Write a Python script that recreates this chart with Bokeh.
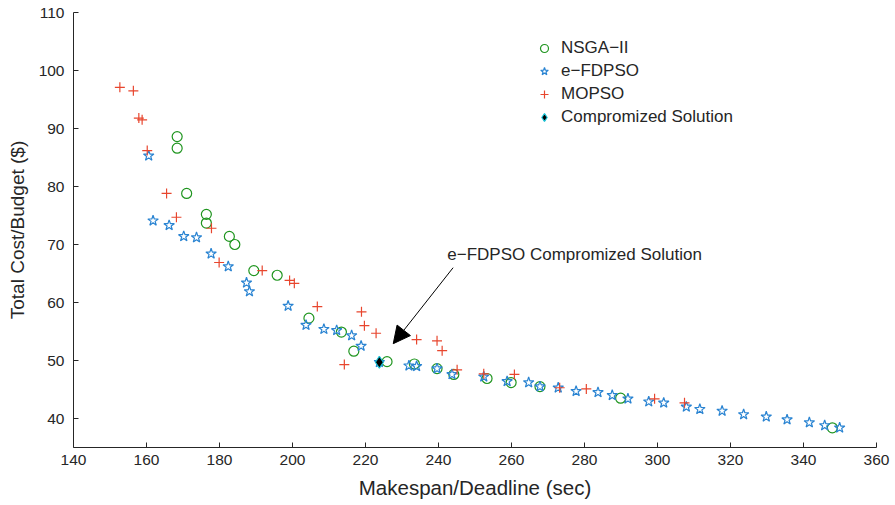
from bokeh.plotting import figure
from bokeh.models import Legend, LegendItem, Arrow, NormalHead, Label, FixedTicker, Range1d
from bokeh.embed import file_html
from bokeh.resources import INLINE

# ---- data ----
nsga_x = [168.4, 168.4, 171.0, 176.4, 176.4, 182.7, 184.2, 189.4, 195.8, 204.5, 213.4,
          216.8, 225.9, 233.4, 239.6, 244.2, 253.3, 259.9, 267.8, 289.9, 347.9]
nsga_y = [88.6, 86.6, 78.8, 75.2, 73.7, 71.4, 70.0, 65.5, 64.7, 57.3, 54.9,
          51.6, 49.8, 49.4, 48.6, 47.6, 46.9, 46.2, 45.5, 43.5, 38.4]

fdpso_x = [160.6, 161.8, 166.2, 170.2, 173.7, 177.7, 182.4, 187.4, 188.2, 198.8, 203.7,
           208.6, 212.1, 216.2, 218.8, 223.8, 231.9, 234.0, 239.6, 243.7, 252.4, 258.8,
           264.7, 267.8, 272.8, 277.7, 283.7, 287.6, 291.9, 297.6, 301.7, 307.9, 311.6,
           317.7, 323.6, 329.8, 335.5, 341.6, 345.8, 349.9]
fdpso_y = [85.3, 74.1, 73.3, 71.4, 71.2, 68.4, 66.2, 63.4, 61.9, 59.4, 56.1,
           55.4, 55.2, 54.3, 52.5, 49.7, 49.1, 49.0, 48.6, 47.6, 47.2, 46.4,
           46.2, 45.5, 45.3, 44.7, 44.5, 44.0, 43.4, 42.9, 42.7, 42.0, 41.6,
           41.3, 40.7, 40.3, 39.8, 39.3, 38.8, 38.4]

mopso_x = [152.7, 156.4, 157.9, 158.8, 160.2, 165.5, 168.2, 177.8, 179.9, 191.7, 199.2,
           200.5, 206.8, 214.2, 218.9, 219.7, 222.9, 234.0, 239.6, 241.0, 245.1, 252.4,
           260.8, 273.2, 280.5, 299.2, 307.4]
mopso_y = [97.1, 96.5, 91.8, 91.5, 86.2, 78.8, 74.7, 72.8, 66.9, 65.5, 63.8,
           63.3, 59.3, 49.3, 58.4, 56.0, 54.7, 53.6, 53.4, 51.7, 48.4, 47.7,
           47.6, 45.3, 45.1, 43.4, 42.7]

comp_x = [223.8]
comp_y = [49.7]

x_ticks = [140, 160, 180, 200, 220, 240, 260, 280, 300, 320, 340, 360]
y_ticks = [40, 50, 60, 70, 80, 90, 100, 110]

annot_text = "e\u2212FDPSO Compromized Solution"
annot_pos = (242.4, 68.3)
arrow_start = (244.0, 66.0)
arrow_end = (227.6, 52.9)

FONT = "Liberation Sans"
GREEN = "#1f951f"
BLUE = "#2a84d2"
RED = "#e8462e"

p = figure(width=895, height=505, output_backend="svg", toolbar_location=None,
           x_range=Range1d(140, 360), y_range=Range1d(35, 110),
           min_border_left=73, min_border_right=19, min_border_top=12, min_border_bottom=58)
p.outline_line_color = None
p.xgrid.visible = False
p.ygrid.visible = False
p.background_fill_color = "white"
p.border_fill_color = "white"

for ax in (p.xaxis[0], p.yaxis[0]):
    ax.major_tick_in = 5
    ax.major_tick_out = 0
    ax.minor_tick_in = 0
    ax.minor_tick_out = 0
    ax.axis_line_color = "#262626"
    ax.major_tick_line_color = "#262626"
    ax.major_label_text_font = FONT
    ax.major_label_text_font_size = "15.5px"
    ax.major_label_text_color = "#262626"
    ax.axis_label_text_font = FONT
    ax.axis_label_text_font_style = "normal"
    ax.axis_label_text_color = "#262626"

p.xaxis.ticker = FixedTicker(ticks=x_ticks)
p.yaxis.ticker = FixedTicker(ticks=y_ticks)
p.xaxis.axis_label = "Makespan/Deadline (sec)"
p.yaxis.axis_label = "Total Cost/Budget ($)"
p.xaxis.axis_label_text_font_size = "20.5px"
p.yaxis.axis_label_text_font_size = "19px"
p.xaxis.major_label_standoff = 7
p.yaxis.major_label_standoff = 9
p.xaxis.axis_label_standoff = 8
p.yaxis.axis_label_standoff = 8

r_nsga = p.scatter(nsga_x, nsga_y, marker="circle", size=10, fill_color=None,
                   line_color=GREEN, line_width=1.2)
r_fdpso = p.scatter(fdpso_x, fdpso_y, marker="star", size=11, fill_color=None,
                    line_color=BLUE, line_width=1.2)
r_mopso = p.scatter(mopso_x, mopso_y, marker="cross", size=10,
                    line_color=RED, line_width=1.2)
r_comp = p.scatter(comp_x, comp_y, marker="diamond", size=12, fill_color="black",
                   line_color="#19c3d6", line_width=1.2)

legend = Legend(items=[
    LegendItem(label="NSGA\u2212II", renderers=[r_nsga]),
    LegendItem(label="e\u2212FDPSO", renderers=[r_fdpso]),
    LegendItem(label="MOPSO", renderers=[r_mopso]),
    LegendItem(label="Compromized Solution", renderers=[r_comp]),
], location=(461, 320))
legend.border_line_color = None
legend.background_fill_alpha = 0
legend.label_text_font = FONT
legend.label_text_font_size = "17px"
legend.label_text_color = "#262626"
legend.glyph_width = 20
legend.glyph_height = 20
legend.label_height = 20
legend.spacing = 3
legend.padding = 10
legend.label_standoff = 7
legend.margin = 0
p.add_layout(legend)

p.add_layout(Arrow(end=NormalHead(size=17, fill_color="black", line_color="black"),
                   x_start=arrow_start[0], y_start=arrow_start[1],
                   x_end=arrow_end[0], y_end=arrow_end[1],
                   line_color="black", line_width=1))
p.add_layout(Label(x=annot_pos[0], y=annot_pos[1], text=annot_text,
                   text_font=FONT, text_font_size="17px", text_color="#262626",
                   text_baseline="middle", text_align="left"))

open("out.html", "w").write(file_html(p, INLINE))
